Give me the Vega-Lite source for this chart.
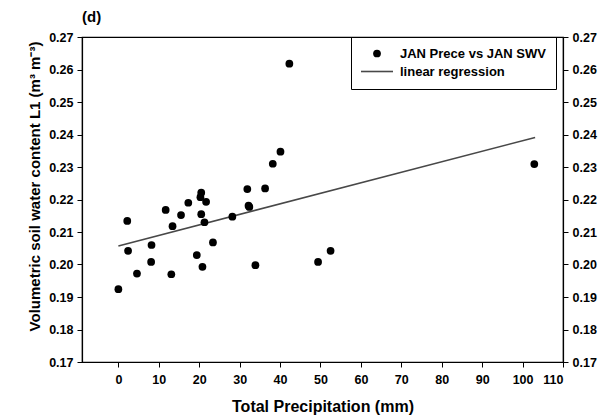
{
  "$schema": "https://vega.github.io/schema/vega-lite/v6.json",
  "width": 481,
  "height": 325,
  "autosize": {"type": "none"},
  "padding": {"left": 82, "top": 37, "right": 39, "bottom": 53},
  "background": "white",
  "title": {"text": "(d)", "anchor": "start", "frame": "group", "fontSize": 15, "fontWeight": "bold", "font": "Liberation Sans", "color": "black", "offset": 6},
  "config": {
    "view": {"stroke": "black", "strokeWidth": 1.2},
    "font": "Liberation Sans",
    "axis": {"domainColor": "black", "tickColor": "black", "labelColor": "black", "titleColor": "black", "grid": false, "tickSize": 5, "labelPadding": 4, "labelFontSize": 12.5, "labelFontWeight": "bold", "labelFont": "Liberation Sans", "titleFont": "Liberation Sans", "titleFontSize": 16, "titleFontWeight": "bold", "domainWidth": 1.2}
  },
  "datasets": {
    "pts": [
      {"precip": 0.0, "swv": 0.1924, "series": "JAN Prece vs JAN SWV"},
      {"precip": 2.2, "swv": 0.2134, "series": "JAN Prece vs JAN SWV"},
      {"precip": 2.4, "swv": 0.2042, "series": "JAN Prece vs JAN SWV"},
      {"precip": 4.6, "swv": 0.1972, "series": "JAN Prece vs JAN SWV"},
      {"precip": 8.2, "swv": 0.2060, "series": "JAN Prece vs JAN SWV"},
      {"precip": 8.1, "swv": 0.2008, "series": "JAN Prece vs JAN SWV"},
      {"precip": 11.7, "swv": 0.2168, "series": "JAN Prece vs JAN SWV"},
      {"precip": 13.4, "swv": 0.2118, "series": "JAN Prece vs JAN SWV"},
      {"precip": 13.1, "swv": 0.1970, "series": "JAN Prece vs JAN SWV"},
      {"precip": 15.5, "swv": 0.2152, "series": "JAN Prece vs JAN SWV"},
      {"precip": 17.3, "swv": 0.2190, "series": "JAN Prece vs JAN SWV"},
      {"precip": 19.4, "swv": 0.2029, "series": "JAN Prece vs JAN SWV"},
      {"precip": 20.5, "swv": 0.2221, "series": "JAN Prece vs JAN SWV"},
      {"precip": 20.3, "swv": 0.2207, "series": "JAN Prece vs JAN SWV"},
      {"precip": 21.7, "swv": 0.2193, "series": "JAN Prece vs JAN SWV"},
      {"precip": 20.5, "swv": 0.2155, "series": "JAN Prece vs JAN SWV"},
      {"precip": 21.3, "swv": 0.2130, "series": "JAN Prece vs JAN SWV"},
      {"precip": 20.8, "swv": 0.1993, "series": "JAN Prece vs JAN SWV"},
      {"precip": 23.4, "swv": 0.2068, "series": "JAN Prece vs JAN SWV"},
      {"precip": 28.2, "swv": 0.2147, "series": "JAN Prece vs JAN SWV"},
      {"precip": 31.9, "swv": 0.2232, "series": "JAN Prece vs JAN SWV"},
      {"precip": 32.2, "swv": 0.2181, "series": "JAN Prece vs JAN SWV"},
      {"precip": 32.4, "swv": 0.2177, "series": "JAN Prece vs JAN SWV"},
      {"precip": 33.9, "swv": 0.1998, "series": "JAN Prece vs JAN SWV"},
      {"precip": 36.3, "swv": 0.2234, "series": "JAN Prece vs JAN SWV"},
      {"precip": 38.2, "swv": 0.2310, "series": "JAN Prece vs JAN SWV"},
      {"precip": 40.1, "swv": 0.2347, "series": "JAN Prece vs JAN SWV"},
      {"precip": 42.3, "swv": 0.2618, "series": "JAN Prece vs JAN SWV"},
      {"precip": 49.4, "swv": 0.2008, "series": "JAN Prece vs JAN SWV"},
      {"precip": 52.5, "swv": 0.2042, "series": "JAN Prece vs JAN SWV"},
      {"precip": 102.9, "swv": 0.2309, "series": "JAN Prece vs JAN SWV"}
    ],
    "reg": [
      {"precip": 0.0, "swv": 0.2057, "series": "linear regression"},
      {"precip": 103.1, "swv": 0.2391, "series": "linear regression"}
    ]
  },
  "resolve": {"axis": {"y": "independent"}, "legend": {"color": "independent", "shape": "independent"}},
  "layer": [
    {
      "data": {"name": "reg"},
      "mark": {"type": "line", "strokeWidth": 1.6},
      "encoding": {
        "x": {"field": "precip", "type": "quantitative", "scale": {"domain": [-9, 110], "nice": false, "zero": false},
              "axis": {"title": "Total Precipitation (mm)", "values": [0,10,20,30,40,50,60,70,80,90,100,110], "labelPadding": 6, "titlePadding": 13}},
        "y": {"field": "swv", "type": "quantitative", "scale": {"domain": [0.17, 0.27], "nice": false, "zero": false},
              "axis": {"orient": "left", "title": "Volumetric soil water content L1 (m³ m⁻³)", "values": [0.17,0.18,0.19,0.2,0.21,0.22,0.23,0.24,0.25,0.26,0.27], "format": ".2f", "titlePadding": 6, "titleY": 149, "titleFontSize": 15}},
        "color": {"field": "series", "type": "nominal", "scale": {"domain": ["JAN Prece vs JAN SWV", "linear regression"], "range": ["transparent", "#484848"]},
                  "legend": {"title": null, "orient": "none", "legendX": 269, "legendY": 0, "padding": 10, "rowPadding": 4,
                             "strokeColor": "black",
                             "labelFontSize": 13, "labelFontWeight": "bold", "labelFont": "Liberation Sans", "labelColor": "black",
                             "symbolType": "M-4,0H4", "symbolSize": 64, "symbolStrokeWidth": 1.6,
                             "symbolOffset": 9.5, "labelOffset": 16.5}}
      }
    },
    {
      "data": {"name": "pts"},
      "mark": {"type": "point", "filled": true, "color": "black", "opacity": 1, "size": 60},
      "encoding": {
        "x": {"field": "precip", "type": "quantitative"},
        "y": {"field": "swv", "type": "quantitative",
              "axis": {"orient": "right", "title": null, "values": [0.17,0.18,0.19,0.2,0.21,0.22,0.23,0.24,0.25,0.26,0.27], "format": ".2f"}},
        "shape": {"field": "series", "type": "nominal",
                  "scale": {"domain": ["JAN Prece vs JAN SWV"], "range": ["circle"]},
                  "legend": {"title": null, "orient": "none", "legendX": 288.5, "legendY": 10, "padding": 0,
                             "labelFontSize": 13, "labelFont": "Liberation Sans", "labelExpr": "''",
                             "labelOffset": 0, "symbolSize": 60}}
      }
    }
  ]
}
